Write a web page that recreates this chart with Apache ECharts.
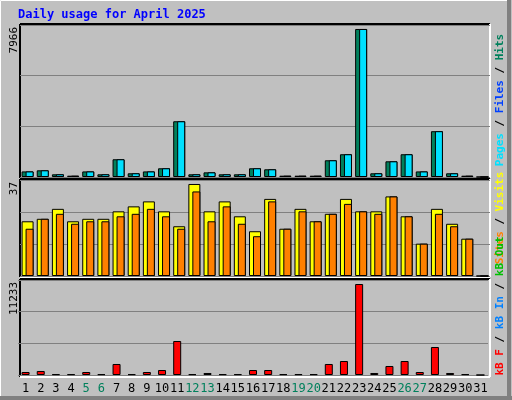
<!DOCTYPE html>
<html>
<head>
<meta charset="utf-8">
<script src="https://cdn.jsdelivr.net/npm/echarts@6/dist/echarts.min.js"></script>
<style>
html, body { margin: 0; padding: 0; background: #c0c0c0; }
#main { width: 512px; height: 400px; }
</style>
</head>
<body>
<div id="main"></div>
<script>
(function() {
    'use strict';
    var days = [];
    for (var d = 1; d <= 31; d++) days.push(String(d));
    var weekends = ['5', '6', '12', '13', '19', '20', '26', '27'];

    // 点击 / 页面
    var hits = [300, 360, 145, 70, 300, 145, 955, 200, 300, 470, 3000, 145, 250, 145, 145, 470,
        415, 70, 70, 70, 900, 1225, 7966, 200, 845, 1225, 300, 2465, 200, 70, 0];
    var pages = [300, 360, 145, 70, 300, 145, 955, 200, 300, 470, 3000, 145, 250, 145, 145, 470,
        415, 70, 70, 70, 900, 1225, 7966, 200, 845, 1225, 300, 2465, 200, 70, 0];
    // 访问 / 站点
    var visits = [22, 23, 27, 22, 23, 23, 26, 28, 30, 26, 20, 37, 26, 30, 24, 18,
        31, 19, 27, 22, 25, 31, 26, 26, 32, 24, 13, 27, 21, 15, 0];
    var sites = [19, 23, 25, 21, 22, 22, 24, 25, 27, 24, 19, 34, 22, 28, 21, 16,
        30, 19, 26, 22, 25, 29, 26, 25, 32, 24, 13, 25, 20, 15, 0];
    // 流量 kB
    var kbytes = [370, 494, 100, 100, 370, 100, 1358, 100, 370, 617, 4197, 100, 247, 100, 100, 617,
        617, 100, 100, 100, 1358, 1728, 11233, 247, 1111, 1728, 370, 3456, 247, 100, 0];

    var mono = 'DejaVu Sans Mono';
    var L = 20, R = 22;
    var grids = [
        { left: L, right: R, top: 25, height: 152 },
        { left: L + 2, right: R - 2, top: 25, height: 152 },
        { left: L, right: R, top: 180, height: 96 },
        { left: L + 2, right: R - 2, top: 180, height: 96 },
        { left: L - 2, right: R + 2, top: 280, height: 95 }
    ];
    var maxes = [8180, 8180, 38.6, 38.6, 11727];
    var xAxis = [], yAxis = [];
    for (var i = 0; i < grids.length; i++) {
        xAxis.push({
            type: 'category', gridIndex: i, data: days,
            axisLine: { show: false }, axisTick: { show: false },
            axisLabel: i === 4 ? {
                show: true, interval: 0, fontFamily: mono, fontSize: 12, margin: 8,
                color: function(v) { return weekends.indexOf(v) >= 0 ? '#00805c' : '#000'; }
            } : { show: false }
        });
        var main = (i === 0 || i === 2 || i === 4);
        yAxis.push({
            type: 'value', gridIndex: i, min: 0, max: maxes[i], interval: maxes[i] / 3,
            axisLabel: { show: false }, axisLine: { show: false }, axisTick: { show: false },
            splitLine: { show: main, lineStyle: { color: '#808080', width: 1 } }
        });
    }
    function bar(name, idx, data, color, w) {
        return {
            name: name, type: 'bar', xAxisIndex: idx, yAxisIndex: idx, data: data,
            barWidth: w, animation: false,
            itemStyle: { color: color, borderColor: '#000', borderWidth: 1 }
        };
    }
    function vtext(x, y, rich, text, align) {
        return {
            type: 'text', x: x, y: y, rotation: Math.PI / 2,
            style: { text: text, rich: rich, font: '11px ' + mono, fill: '#000', align: align || 'center', verticalAlign: 'middle' }
        };
    }
    var rich = {
        p: { fill: '#00e0ff', font: 'bold 11px ' + mono },
        f: { fill: '#0040ff', font: 'bold 11px ' + mono },
        h: { fill: '#00805c', font: 'bold 11px ' + mono },
        s: { fill: '#ff8000', font: 'bold 11px ' + mono },
        v: { fill: '#ffff00', font: 'bold 11px ' + mono },
        r: { fill: '#ff0000', font: 'bold 11px ' + mono },
        b: { fill: '#0080ff', font: 'bold 11px ' + mono },
        g: { fill: '#00c000', font: 'bold 11px ' + mono },
        k: { fill: '#000', font: 'bold 11px ' + mono }
    };
    function panel(y, h) {
        return [
            { type: 'line', shape: { x1: 20, y1: y, x2: 490, y2: y }, style: { stroke: '#000', lineWidth: 2 } },
            { type: 'line', shape: { x1: 20, y1: y, x2: 20, y2: y + h }, style: { stroke: '#000', lineWidth: 2 } },
            { type: 'line', shape: { x1: 490, y1: y, x2: 490, y2: y + h }, style: { stroke: '#fff', lineWidth: 2 } },
            { type: 'line', shape: { x1: 20, y1: y + h, x2: 490, y2: y + h }, style: { stroke: '#fff', lineWidth: 2 } }
        ];
    }
    var graphic = [
        { type: 'rect', shape: { x: 0.5, y: 0.5, width: 510, height: 398 }, style: { fill: 'none', stroke: '#fff', lineWidth: 1 } },
        { type: 'line', shape: { x1: 509, y1: 0, x2: 509, y2: 400 }, style: { stroke: '#808080', lineWidth: 4 } },
        { type: 'line', shape: { x1: 0, y1: 398, x2: 512, y2: 398 }, style: { stroke: '#808080', lineWidth: 4 } },
        { type: 'text', x: 18, y: 15, style: { text: 'Daily usage for April 2025', font: 'bold 12px ' + mono, fill: '#0000ff', verticalAlign: 'middle' } },
        vtext(14, 27, rich, '7966', 'right'),
        vtext(14, 182, rich, '37', 'right'),
        vtext(14, 282, rich, '11233', 'right'),
        vtext(500, 100, rich, '{p|Pages} {k|/} {f|Files} {k|/} {h|Hits}'),
        vtext(500, 218, rich, '{s|Sites} {k|/} {v|Visits}'),
        vtext(500, 306, rich, '{r|kB F} {k|/} {b|kB In} {k|/} {g|kB Out}')
    ].concat(panel(24, 154), panel(179, 98), panel(279, 98));
    // 文字方向：自下而上
    graphic.forEach(function(g) { if (g.rotation) g.rotation = -Math.PI / 2 * -1; });

    var chart = echarts.init(document.getElementById('main'));
    chart.setOption({
        backgroundColor: '#c0c0c0',
        animation: false,
        grid: grids,
        xAxis: xAxis,
        yAxis: yAxis,
        series: [
            bar('Hits', 0, hits, '#00805c', 12),
            bar('Pages', 1, pages, '#00e0ff', 8),
            bar('Visits', 2, visits, '#ffff00', 12),
            bar('Sites', 3, sites, '#ff8000', 8),
            bar('kB F', 4, kbytes, '#ff0000', 8)
        ],
        graphic: graphic
    });
})();
</script>
</body>
</html>
